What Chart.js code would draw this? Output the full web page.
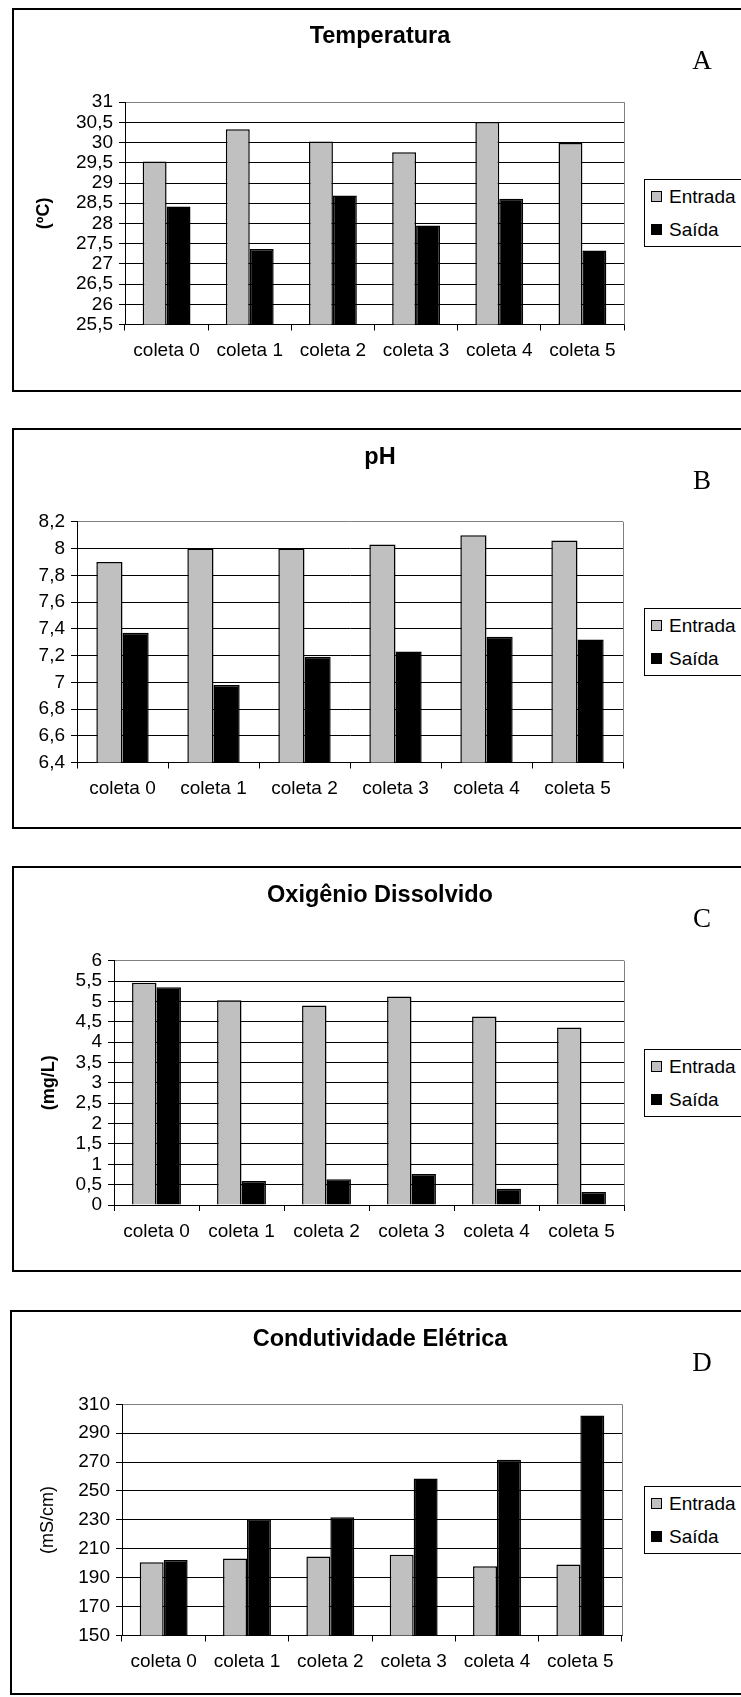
<!DOCTYPE html>
<html>
<head>
<meta charset="utf-8">
<script src="https://cdn.jsdelivr.net/npm/chart.js@4.4.1/dist/chart.umd.min.js"></script>
<style>
  body { margin: 0; width: 741px; height: 1697px; overflow: hidden; background: #fff; font-family: "Liberation Sans", Arial, sans-serif; position: relative; }
  .box { position: absolute; border: 2px solid #000; box-sizing: border-box; }
  .title { position: absolute; font-weight: bold; font-size: 23.5px; transform: translate(-50%, -50%); white-space: nowrap; }
  .letter { position: absolute; font-family: "Liberation Serif", "Times New Roman", serif; font-size: 27px; transform: translate(-50%, -50%); }
  .legend { position: absolute; border: 1px solid #000; background: #fff; width: 200px; height: 68px; box-sizing: border-box; }
  .legend div { position: absolute; left: 6px; font-size: 19px; line-height: 20px; white-space: nowrap; }
  .legend span { display: inline-block; width: 11px; height: 11px; border: 1px solid #000; box-sizing: border-box; margin-right: 7px; vertical-align: 1px; }
  canvas { position: absolute; }
</style>
</head>
<body>
<script>
const categories = ['coleta 0', 'coleta 1', 'coleta 2', 'coleta 3', 'coleta 4', 'coleta 5'];
const seriesNames = ['Entrada', 'Saída'];
const seriesColors = ['#C0C0C0', '#000000'];

const tempEntrada = [29.53, 30.33, 30.03, 29.76, 30.51, 29.99];
const tempSaida = [28.42, 27.37, 28.69, 27.95, 28.61, 27.33];

const phEntrada = [7.90, 8.00, 8.00, 8.03, 8.10, 8.06];
const phSaida = [7.37, 6.98, 7.19, 7.23, 7.34, 7.32];

const odEntrada = [5.46, 5.03, 4.90, 5.12, 4.63, 4.36];
const odSaida = [5.35, 0.59, 0.63, 0.76, 0.40, 0.32];

const ceEntrada = [200.7, 203.3, 204.6, 205.9, 197.9, 199.2];
const ceSaida = [202.2, 230.5, 231.9, 258.6, 271.6, 302.3];

const yRanges = [[25.5, 31, 0.5], [6.4, 8.2, 0.2], [0, 6, 0.5], [150, 310, 20]];
const titles = ['Temperatura', 'pH', 'Oxigênio Dissolvido', 'Condutividade Elétrica'];
const letters = ['A', 'B', 'C', 'D'];
const yTitles = [['(ºC)', 'bold'], null, ['(mg/L)', 'bold'], ['(mS/cm)', 'normal']];

// page layout of each panel (box + plot area in page pixels)
const panels = [
  { box: [12, 7.5, 391.5], plot: [125, 624, 101.7, 324], yTitleX: 44 },
  { box: [12, 428, 829], plot: [77, 623, 521.8, 762.5] },
  { box: [12, 866, 1272], plot: [114, 624, 960.7, 1205], yTitleX: 49 },
  { box: [10, 1310, 1695], plot: [122, 622, 1404.3, 1635.5], yTitleX: 48 },
];

const dataSets = [
  [tempEntrada, tempSaida],
  [phEntrada, phSaida],
  [odEntrada, odSaida],
  [ceEntrada, ceSaida],
];

const plotFrame = {
  id: 'plotFrame',
  afterDraw(chart) {
    const { ctx, chartArea } = chart;
    ctx.save();
    ctx.strokeStyle = '#808080';
    ctx.lineWidth = 1;
    ctx.beginPath();
    ctx.moveTo(chartArea.right + 0.5, chartArea.top);
    ctx.lineTo(chartArea.right + 0.5, chartArea.bottom);
    ctx.stroke();
    ctx.restore();
  }
};

function fmt(v) {
  return String(Math.round(v * 10) / 10).replace('.', ',');
}

panels.forEach((p, i) => {
  const [bl, bt, bb] = p.box;
  const [pl, pr, pt, pb] = p.plot;

  const box = document.createElement('div');
  box.className = 'box';
  box.style.left = bl + 'px';
  box.style.top = bt + 'px';
  box.style.width = (800 - bl) + 'px';
  box.style.height = (bb - bt) + 'px';
  document.body.appendChild(box);

  const cl = bl + 2, ct = bt + 2, cw = 741 - cl, ch = bb - bt - 4;
  const canvas = document.createElement('canvas');
  canvas.width = cw; canvas.height = ch;
  canvas.style.left = cl + 'px'; canvas.style.top = ct + 'px';
  canvas.style.width = cw + 'px'; canvas.style.height = ch + 'px';
  document.body.appendChild(canvas);

  const title = document.createElement('div');
  title.className = 'title';
  title.textContent = titles[i];
  title.style.left = '380px';
  title.style.top = (bt + 27.5) + 'px';
  document.body.appendChild(title);

  const letter = document.createElement('div');
  letter.className = 'letter';
  letter.textContent = letters[i];
  letter.style.left = '702px';
  letter.style.top = (bt + 52) + 'px';
  document.body.appendChild(letter);

  const legend = document.createElement('div');
  legend.className = 'legend';
  legend.style.left = '644px';
  legend.style.top = ((pt + pb) / 2 - 34) + 'px';
  seriesNames.forEach((name, k) => {
    const row = document.createElement('div');
    row.style.top = (k === 0 ? 7 : 40) + 'px';
    row.innerHTML = '<span style="background:' + seriesColors[k] + '"></span>' + name;
    legend.appendChild(row);
  });
  document.body.appendChild(legend);

  const [ymin, ymax, step] = yRanges[i];
  const yt = yTitles[i];
  const fontSize = 19;
  const padLeft = yt ? p.yTitleX - cl - 0.6 * 18 : 0;
  const xAxisH = 44;

  new Chart(canvas, {
    type: 'bar',
    data: {
      labels: categories,
      datasets: dataSets[i].map((vals, k) => ({
        label: seriesNames[k],
        data: vals,
        backgroundColor: seriesColors[k],
        borderColor: '#000',
        borderWidth: 1.5,
        categoryPercentage: 0.575,
        barPercentage: 1,
      })),
    },
    options: {
      responsive: false,
      animation: false,
      layout: {
        padding: { left: padLeft, top: pt - ct, right: cl + cw - pr, bottom: (ct + ch) - pb - xAxisH },
      },
      plugins: { legend: { display: false }, tooltip: { enabled: false } },
      scales: {
        x: {
          afterFit(scale) { scale.height = xAxisH; },
          grid: { drawOnChartArea: false, offset: true, color: '#000', tickLength: 6 },
          border: { color: '#000', width: 1 },
          ticks: { color: '#000', padding: 9, font: { family: 'Liberation Sans', size: fontSize } },
        },
        y: {
          min: ymin,
          max: ymax,
          afterFit(scale) { scale.width = pl - cl - padLeft; },
          grid: {
            color: (c) => (Math.abs(c.tick.value - ymax) < 1e-6 ? '#808080' : '#000'),
            tickColor: '#000',
            tickLength: 6,
          },
          border: { color: '#000', width: 1 },
          ticks: {
            stepSize: step,
            autoSkip: false,
            color: '#000',
            padding: 6,
            font: { family: 'Liberation Sans', size: fontSize },
            callback: (v) => fmt(v),
          },
          title: yt ? {
            display: true,
            text: yt[0],
            color: '#000',
            padding: 0,
            font: { family: 'Liberation Sans', size: 18, weight: yt[1] },
          } : { display: false },
        },
      },
    },
    plugins: [plotFrame],
  });
});
</script>
</body>
</html>
